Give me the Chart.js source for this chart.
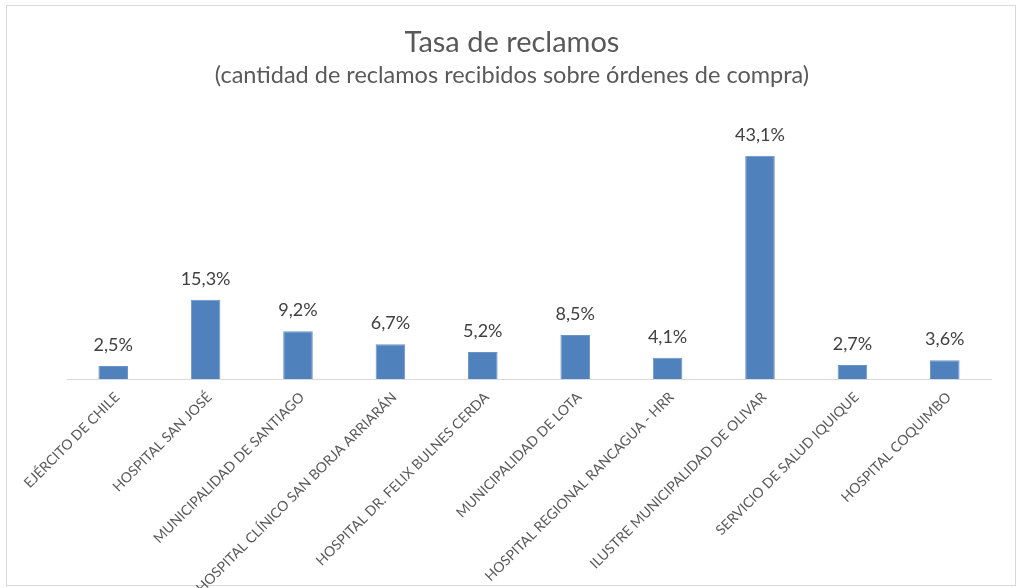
<!DOCTYPE html>
<html>
<head>
<meta charset="utf-8">
<script src="https://cdn.jsdelivr.net/npm/chart.js@4"></script>
<style>
  html, body { margin: 0; padding: 0; background: #fff; }
  #wrap { position: relative; width: 1024px; height: 588px; }
</style>
</head>
<body>
<div id="wrap"><canvas id="reclamosChart"></canvas></div>
<script>
// --- datos ---
const categorias = [
    'EJÉRCITO DE CHILE',
    'HOSPITAL SAN JOSÉ',
    'MUNICIPALIDAD DE SANTIAGO',
    'HOSPITAL CLÍNICO SAN BORJA ARRIARÁN',
    'HOSPITAL DR. FELIX BULNES CERDA',
    'MUNICIPALIDAD DE LOTA',
    'HOSPITAL REGIONAL RANCAGUA - HRR',
    'ILUSTRE MUNICIPALIDAD DE OLIVAR',
    'SERVICIO DE SALUD IQUIQUE',
    'HOSPITAL COQUIMBO'
];
const tasas = [2.5, 15.3, 9.2, 6.7, 5.2, 8.5, 4.1, 43.1, 2.7, 3.6];

const FONT = 'Lato, "Open Sans", sans-serif';
const GRIS = '#595959';

// etiquetas de datos sobre las barras + marco
const etiquetasPlugin = {
    id: 'etiquetas',
    beforeDraw(chart) {
        const c = chart.ctx;
        c.save();
        c.strokeStyle = '#d9d9d9';
        c.lineWidth = 1;
        c.strokeRect(6.5, 5.5, 1009, 580);
        c.restore();
    },
    afterDatasetsDraw(chart) {
        const c = chart.ctx;
        const meta = chart.getDatasetMeta(0);
        c.save();
        c.font = '18px ' + FONT;
        c.fillStyle = '#404040';
        c.textAlign = 'center';
        c.textBaseline = 'middle';
        meta.data.forEach((bar, i) => {
            c.fillText(tasas[i].toFixed(1).replace('.', ',') + '%', bar.x, bar.y - 21);
        });
        c.restore();
    }
};

const ctx = document.getElementById('reclamosChart').getContext('2d');
new Chart(ctx, {
    type: 'bar',
    data: {
        labels: categorias,
        datasets: [{
            data: tasas,
            backgroundColor: '#4f81bd',
            borderColor: '#6a94c8',
            borderWidth: 1,
            categoryPercentage: 1,
            barPercentage: 0.32
        }]
    },
    options: {
        responsive: true,
        maintainAspectRatio: false,
        animation: false,
        devicePixelRatio: 1,
        layout: { padding: { left: 33, right: 33, top: 0, bottom: 0 } },
        scales: {
            y: {
                min: 0,
                max: 50,
                grid: { display: false, drawTicks: false },
                border: { display: false },
                ticks: { display: false },
                afterFit(scale) { scale.width = 34; }
            },
            x: {
                grid: { display: false, drawTicks: false },
                border: { color: '#d9d9d9', width: 1 },
                ticks: {
                    color: GRIS,
                    font: { family: FONT, size: 14 },
                    minRotation: 45,
                    maxRotation: 45,
                    padding: 10,
                    labelOffset: 4,
                    autoSkip: false
                },
                afterFit(scale) { scale.height = 209; }
            }
        },
        plugins: {
            legend: { display: false },
            tooltip: { enabled: false },
            title: {
                display: true,
                text: 'Tasa de reclamos',
                color: GRIS,
                font: { family: FONT, size: 29, weight: 'normal' },
                padding: { top: 25, bottom: 1 }
            },
            subtitle: {
                display: true,
                text: '(cantidad de reclamos recibidos sobre órdenes de compra)',
                color: GRIS,
                font: { family: FONT, size: 23.5, weight: 'normal' },
                padding: { top: 1, bottom: 30 }
            }
        }
    },
    plugins: [etiquetasPlugin]
});
</script>
</body>
</html>
